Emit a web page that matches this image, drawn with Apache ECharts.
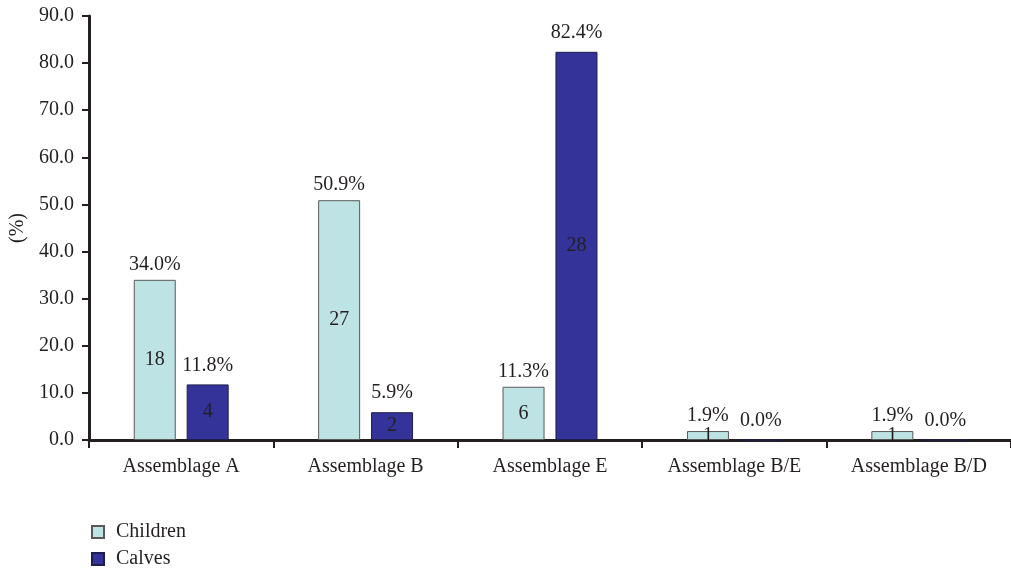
<!DOCTYPE html>
<html>
<head>
<meta charset="utf-8">
<script src="https://cdn.jsdelivr.net/npm/echarts@6/dist/echarts.min.js"></script>
<style>
  html, body { margin: 0; padding: 0; background: #fff; }
  #chart { width: 1011px; height: 571px; }
</style>
</head>
<body>
<div id="chart"></div>
<script>
var categories = ['Assemblage A', 'Assemblage B', 'Assemblage E', 'Assemblage B/E', 'Assemblage B/D'];
var childrenPct = [34.0, 50.9, 11.3, 1.9, 1.9];
var calvesPct = [11.8, 5.9, 82.4, 0.0, 0.0];
var childrenCount = [18, 27, 6, 1, 1];
var calvesCount = [4, 2, 28, 0, 0];
var yTicks = { min: 0, max: 90, interval: 10 };

var ink = '#231f20';
var font = 'Liberation Serif';
var fs = 20;

function pctLabel(p) { return p.value.toFixed(1) + '%'; }
function countLabel(list) {
  return function (p) { var v = list[p.dataIndex]; return v ? String(v) : ''; };
}

var barCommon = {
  type: 'bar',
  barWidth: 42,
  barGap: '26%'
};

var chart = echarts.init(document.getElementById('chart'));
chart.setOption({
  animation: false,
  grid: { left: 89, right: 0, top: 16, bottom: 131, outerBoundsMode: 'none' },
  legend: {
    orient: 'vertical',
    left: 86,
    top: 517,
    height: 60,
    icon: 'rect',
    itemWidth: 12,
    itemHeight: 12,
    itemGap: 7,
    textStyle: { fontFamily: font, fontSize: fs, color: ink, padding: [0, 0, 0, 7] },
    data: ['Children', 'Calves']
  },
  xAxis: [{
    type: 'category',
    data: categories,
    axisLine: { lineStyle: { color: ink, width: 3 } },
    axisTick: { show: true, length: 8, lineStyle: { color: ink, width: 2 } },
    axisLabel: { fontFamily: font, fontSize: fs, color: ink, margin: 17 }
  }, {
    type: 'category',
    data: categories,
    show: false
  }],
  yAxis: {
    type: 'value',
    min: yTicks.min,
    max: yTicks.max,
    interval: yTicks.interval,
    name: '(%)',
    nameLocation: 'middle',
    nameGap: 60,
    nameRotate: 90,
    nameTextStyle: { fontFamily: font, fontSize: fs, color: ink },
    axisLine: { show: true, lineStyle: { color: ink, width: 3 } },
    axisTick: { show: true, length: 7, lineStyle: { color: ink, width: 2 } },
    splitLine: { show: false },
    axisLabel: {
      fontFamily: font, fontSize: fs, color: ink, margin: 15,
      formatter: function (v) { return v.toFixed(1); }
    }
  },
  series: [
    Object.assign({}, barCommon, {
      name: 'Children',
      data: childrenPct,
      itemStyle: { color: '#bde3e5', borderColor: '#595959', borderWidth: 1 },
      label: { show: true, position: 'top', distance: 5, formatter: pctLabel,
        fontFamily: font, fontSize: fs, color: ink }
    }),
    Object.assign({}, barCommon, {
      name: 'Calves',
      data: calvesPct,
      itemStyle: { color: '#333399', borderColor: '#1e1e4a', borderWidth: 1 },
      label: { show: true, position: 'top', distance: 9, formatter: pctLabel,
        fontFamily: font, fontSize: fs, color: ink }
    }),
    Object.assign({}, barCommon, {
      name: 'childrenCount',
      xAxisIndex: 1,
      data: childrenPct,
      silent: true,
      itemStyle: { color: 'rgba(0,0,0,0)' },
      label: { show: true, position: 'inside', formatter: countLabel(childrenCount),
        fontFamily: font, fontSize: fs, color: ink }
    }),
    Object.assign({}, barCommon, {
      name: 'calvesCount',
      xAxisIndex: 1,
      data: calvesPct,
      silent: true,
      itemStyle: { color: 'rgba(0,0,0,0)' },
      label: { show: true, position: 'inside', formatter: countLabel(calvesCount),
        fontFamily: font, fontSize: fs, color: ink }
    })
  ]
});
</script>
</body>
</html>
